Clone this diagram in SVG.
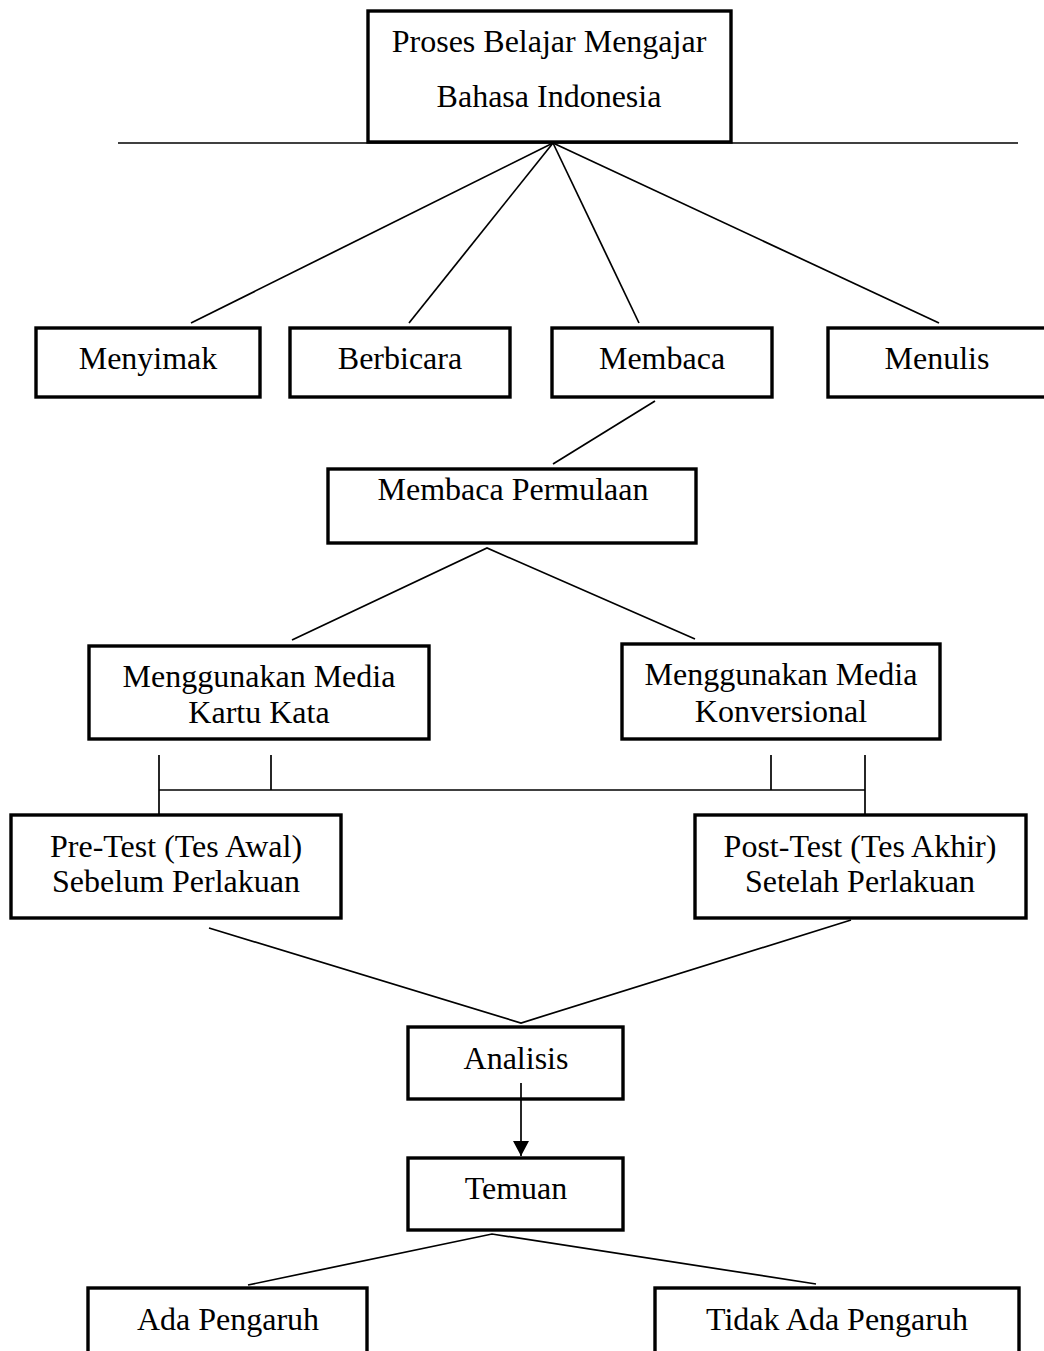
<svg xmlns="http://www.w3.org/2000/svg" width="1044" height="1351" viewBox="0 0 1044 1351">
<style>
.box{fill:#fff;stroke:#000;stroke-width:3.4}
.t{font-family:"Liberation Serif","Times New Roman",serif;font-size:32px;fill:#000;text-anchor:middle}
.ln{stroke:#000;stroke-width:1.7;fill:none}
</style>
<defs>
<marker id="ah" markerWidth="15" markerHeight="16" refX="15" refY="8" orient="auto" markerUnits="userSpaceOnUse" viewBox="0 0 15 16">
<path d="M0,0 L15,8 L0,16 Z" fill="#000"/>
</marker>
</defs>
<rect width="1044" height="1351" fill="#fff"/>
<g id="n-proses">
<rect class="box" x="368" y="11" width="363" height="131"/>
<text class="t" x="549" y="52">Proses Belajar Mengajar</text>
<text class="t" x="549" y="107">Bahasa Indonesia</text>
</g>
<g id="n-menyimak">
<rect class="box" x="36" y="328" width="224" height="69"/>
<text class="t" x="148" y="369">Menyimak</text>
</g>
<g id="n-berbicara">
<rect class="box" x="290" y="328" width="220" height="69"/>
<text class="t" x="400" y="369">Berbicara</text>
</g>
<g id="n-membaca">
<rect class="box" x="552" y="328" width="220" height="69"/>
<text class="t" x="662" y="369">Membaca</text>
</g>
<g id="n-menulis">
<rect class="box" x="828" y="328" width="220" height="69"/>
<text class="t" x="937" y="369">Menulis</text>
</g>
<g id="n-permulaan">
<rect class="box" x="328" y="469" width="368" height="74"/>
<text class="t" x="513" y="500">Membaca Permulaan</text>
</g>
<g id="n-kartu">
<rect class="box" x="89" y="646" width="340" height="93"/>
<text class="t" x="259" y="687">Menggunakan Media</text>
<text class="t" x="259" y="723">Kartu Kata</text>
</g>
<g id="n-konversional">
<rect class="box" x="622" y="644" width="318" height="95"/>
<text class="t" x="781" y="685">Menggunakan Media</text>
<text class="t" x="781" y="722">Konversional</text>
</g>
<g id="n-pretest">
<rect class="box" x="11" y="815" width="330" height="103"/>
<text class="t" x="176" y="857">Pre-Test (Tes Awal)</text>
<text class="t" x="176" y="892">Sebelum Perlakuan</text>
</g>
<g id="n-posttest">
<rect class="box" x="695" y="815" width="331" height="103"/>
<text class="t" x="860" y="857">Post-Test (Tes Akhir)</text>
<text class="t" x="860" y="892">Setelah Perlakuan</text>
</g>
<g id="n-analisis">
<rect class="box" x="408" y="1027" width="215" height="72"/>
<text class="t" x="516" y="1069">Analisis</text>
</g>
<g id="n-temuan">
<rect class="box" x="408" y="1158" width="215" height="72"/>
<text class="t" x="516" y="1199">Temuan</text>
</g>
<g id="n-ada">
<rect class="box" x="88" y="1288" width="279" height="100"/>
<text class="t" x="228" y="1330">Ada Pengaruh</text>
</g>
<g id="n-tidak">
<rect class="box" x="655" y="1288" width="364" height="100"/>
<text class="t" x="837" y="1330">Tidak Ada Pengaruh</text>
</g>
<g id="connectors">
<line class="ln" x1="118" y1="143" x2="1018" y2="143"/>
<line class="ln" x1="553" y1="143" x2="191" y2="323"/>
<line class="ln" x1="553" y1="143" x2="409" y2="323"/>
<line class="ln" x1="553" y1="143" x2="639" y2="323"/>
<line class="ln" x1="553" y1="143" x2="939" y2="323"/>
<line class="ln" x1="655" y1="401" x2="553" y2="464"/>
<polyline class="ln" points="292,640 487,548 695,639"/>
<line class="ln" x1="159" y1="755" x2="159" y2="814"/>
<line class="ln" x1="271" y1="755" x2="271" y2="790"/>
<line class="ln" x1="771" y1="755" x2="771" y2="790"/>
<line class="ln" x1="865" y1="755" x2="865" y2="814"/>
<line class="ln" x1="159" y1="790" x2="865" y2="790"/>
<polyline class="ln" points="209,928 521,1023 851,920"/>
<line class="ln" x1="521" y1="1083" x2="521" y2="1156" marker-end="url(#ah)" stroke-width="2"/>
<polyline class="ln" points="248,1285 492,1234 816,1284"/>
</g>
</svg>
